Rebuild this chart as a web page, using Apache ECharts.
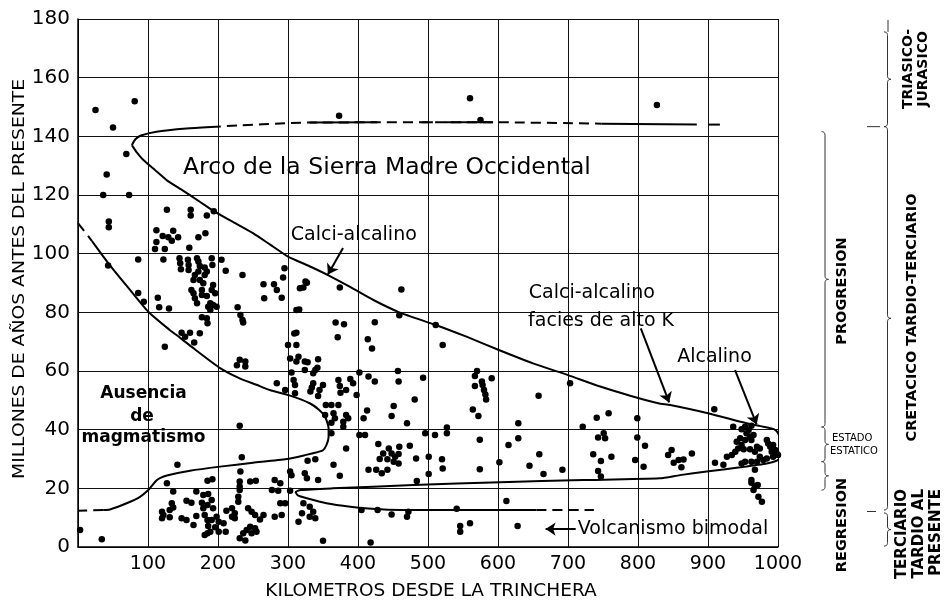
<!DOCTYPE html>
<html><head><meta charset="utf-8">
<script src="https://cdn.jsdelivr.net/npm/echarts@6/dist/echarts.min.js"></script>
<style>html,body{margin:0;padding:0;background:#fff}#c{width:945px;height:600px}</style>
</head><body><div id="c"></div>
<script>
// ---------- axes ----------
const xAxisRange = [0, 1000, 100];   // km from trench
const yAxisRange = [0, 180, 20];     // Ma

// ---------- sample points (km, Ma) ----------
const ptsOldest = [[373,147],[560,153],[575,145.6],[827,150.7]];
const ptsNorthwest = [[25,149],[81,152],[50,143],[69,134],[41,127],[36,120],[73,120],[44,111],[44,109],[127,115],[161,115],[161,113],[184,113],[194,114.5],[112,108],[121,106],[129,105.6],[136,107.8],[143,105.6],[134,104.4],[112,104],[110,101.6],[124,101.6],[172,105.6],[182,107],[159,102],[43,96],[86,98],[122,98],[86,86.6],[114,85]];
const ptsCluster200 = [[145,98.4],[146,96.7],[147,94.7],[157,97.9],[158,96.1],[158,94.4],[170,98.4],[172,97.3],[174,95.8],[181,95.3],[184,93.9],[181,92.7],[172,93.9],[167,92.7],[165,91],[174,91],[179,89.9],[162,87.6],[165,86.5],[167,84.8],[177,87.6],[177,85.9],[184,85.6],[191,87.6],[193,89.3],[196,86.5],[189,83.1],[186,81.9],[193,82.5],[198,81.9],[189,80.8],[170,83.1],[191,98.4],[192,96.1],[205,97.9],[211,94.2],[235,92.7],[94,83.6],[116,81.7],[130,81.3],[177,78.3],[184,78],[185,76.3],[148,73],[160,73],[174,72.9],[166,69.7],[153,71.7],[124,68.3]];
const ptsCentral = [[265,89.6],[280,89.6],[284,87.6],[291,85],[266,84.8],[295,95],[293,91.9],[325,90.5],[317,88.2],[316,81],[322,88.5],[327,90.1],[374,88.5],[462,87.8],[228,81.7],[232,79.1],[235,77.4],[236,76.5],[312,73],[300,68.9],[312,68.9],[231,63.8],[227,62],[239,63.2],[239,61.5],[312,80.8],[309,72.8],[303,64.3],[315,64.9],[324,63.2],[324,60.3],[339,60.3],[336,59.2],[336,55.8],[284,55.8],[296,53.5],[308,56.9],[310,55.2],[310,52.4],[231,41.3],[368,76.5],[380,75.9],[371,71.5],[424,76.6],[414,70.8],[420,67.7],[459,79],[511,75.7],[312,63.2],[328,63],[343,64],[342,61.1],[305,59.5],[334,54.4],[332,53],[345,53.5],[343,51.5],[350,55.2],[372,56.9],[374,54.9],[389,57.3],[393,55.8],[383,53.5],[375,52.6],[398,51.8],[354,48.4],[362,48.4],[372,48.4],[353,45],[365,45.6],[367,43.9],[362,42.4],[383,45],[386,43.9],[379,42.7],[379,41],[362,38.8],[402,59.5],[415,58.1],[424,56.4],[457,60],[458,56.4],[493,57.7],[481,50.3],[413,46.5],[408,43.9],[451,48.1],[448,44.7],[470,42.2],[402,38.2],[410,38.2],[496,38.8],[510,38.2],[429,35.1],[444,33.6],[474,34.5],[383,33.6]];
const ptsEast = [[521,68.9],[570,60],[567,58.3],[577,56.4],[578,55.2],[580,53.5],[582,52],[583,50.3],[567,54.9],[591,57.5],[564,46.9],[572,44.7],[658,51.6],[703,55.8],[741,44.1],[758,45.6],[799,43.9],[721,41],[629,42.2],[629,37.1],[615,34.8],[743,37.3],[751,38.8],[753,37.1],[799,37.3],[810,34.5],[574,36.6],[527,40.7],[527,38.8],[659,31.6],[645,27.7],[665,24.9],[692,26.3],[602,28.9],[574,26.5],[736,31.6],[747,29.3],[762,30.8],[743,25.9],[747,24],[796,29.7],[808,27.4],[848,33.1],[843,31.4],[851,28.7],[858,29.7],[865,29.8],[862,27.2],[877,31.9],[909,47]];
const ptsLowerBand = [[501,30.8],[520,29.9],[521,26.8],[501,24.9],[483,30.2],[484,22.5],[436,31.9],[448,31.9],[453,30.8],[458,31.7],[442,29.9],[451,29.1],[458,28.5],[415,26.3],[426,26.3],[434,25.1],[442,26.3],[431,30],[459,34.2],[365,28],[374,24.3],[343,22.8],[324,25.1],[328,29.4],[339,29.9],[327,23.4],[303,25.7],[305,24.5],[281,22.8],[289,21.7],[277,19.4],[286,19.2],[303,19.2],[142,28],[234,30.6],[232,25.7],[185,22.6],[192,23.1],[231,22.3],[231,20.6],[231,19.4],[246,22.3],[254,22.6],[127,21.7],[136,18.9]];
const ptsYoung = [[3,5.8],[34,2.6],[229,17.1],[229,15.4],[169,18.9],[179,17.7],[186,18.1],[191,16],[185,14.3],[193,13.2],[179,13.2],[177,15.1],[155,15.8],[162,15.1],[134,14.9],[136,13.5],[131,12.6],[120,12],[122,10.9],[120,9.8],[131,10.1],[148,9.8],[155,9.2],[165,7.5],[169,10.6],[181,10.9],[185,9.2],[191,9.2],[198,10.3],[201,8.6],[186,7.2],[196,6.7],[189,5.2],[181,4.1],[185,4.7],[201,5.2],[212,12.4],[220,13.2],[224,11.5],[220,10.3],[224,9.8],[208,8.1],[211,5.2],[243,13.2],[248,12],[253,10.9],[265,10.9],[260,9.4],[246,6.9],[253,6.4],[241,5.8],[248,4.7],[236,4.7],[231,3],[239,2.2],[255,5.2],[281,10.3],[291,10.9],[289,14.9],[296,14.9],[315,8.6],[322,14.9],[331,13.7],[336,12],[339,9.8],[320,11.5],[331,10.3],[350,2.1],[418,1.5],[405,12.6],[428,12.6],[448,11.1],[472,12],[470,10.3],[541,13],[612,15.7],[628,7.2],[560,8.1],[546,7.2],[546,5.2]];
const ptsAlcalino = [[936,41],[948,40.1],[953,41],[958,39.9],[962,41.3],[955,38.8],[960,37.6],[965,38.2],[946,37.1],[941,35.9],[953,36.5],[962,36.5],[948,34.8],[943,33.6],[939,32.5],[951,33.3],[960,33.3],[967,32.5],[970,34.2],[974,33.6],[974,30.8],[979,29.7],[970,29.1],[962,29.1],[953,29.1],[948,28.5],[927,30.8],[922,28],[910,28.7],[934,31.4],[967,26.3],[962,22.8],[962,21.9],[967,20.6],[971,21.1],[965,19.4],[972,17.1],[977,15.4],[984,36.5],[986,35.3],[989,34.2],[993,34.8],[996,33.1],[998,31.9],[991,32.5],[993,30.8],[1000,31.4],[984,30.2]];

// ---------- boundary curves (km, Ma) ----------
const arcTopStart = [[77,137],[82,139],[90,140.3],[112,141.6],[155,142.7],[190,143.2]];
const arcTopDashed = [[190,143.2],[331,144.7],[593,144.8],[748,144.3]];
const arcTopSolidPieces = [
  [[331,144.7],[427,144.8]],
  [[491,144.8],[507,144.8]],
  [[524,144.8],[593,144.8]],
  [[748,144.3],[884,144]],
  [[900,144],[917,144]]
];
const arcMain = [[77,137],[84,134.5],[93,132],[110,128.5],[127,125],[150,121.5],[174,117.7],[194,114.5],[220,111],[250,107],[275,103],[300,99],[330,95.8],[357,92.7],[390,88.5],[422,84.2],[459,80],[511,75.7],[555,71.7],[603,67],[650,62.6],[700,58.6],[746,54.7],[790,51.5],[829,49],[846,48.4],[900,45.6],[955,42.2],[975,41.2],[994,40.2],[1000,38.9],[1004,36.6],[1005.5,34.5],[1005.5,32],[1003,30.3],[998,29.4],[984,28.5],[946,27.2],[898,25.7],[860,24.5],[831,23.4],[722,22.8],[603,22.1],[479,21.1],[364,20],[318,19.4],[311,18.7],[314,17.6],[327,16.6],[355,14.9],[389,13.7],[420,13],[460,12.6],[550,12.6],[655,12.6]];
const bimodalDashed = [[655,12.6],[737,12.6]];
const magmaTopDashed = [[0,110.4],[20,104.3]];
const magmaCurve = [[20,104.3],[45.7,96],[72,88.3],[100,80.3],[131,74],[146,71.3],[162,68.3],[203,61],[231,57.5],[255,55.3],[274,53.5],[303,51.6],[331,49],[345,46.6],[353,44.4],[358,40.5],[358,37.5],[355,34.8],[350,33],[340,32.2],[326,31.4],[298,30],[250,28.7],[203,27.4],[160,26],[127,24.4],[117,23.5],[112,22.7],[106,21],[100.5,19.4],[88.6,17.1],[69.5,14.9],[45.7,12.8],[36,12.6]];
const magmaBottomDashed = [[36,12.6],[0,12.4]];

// ---------- arrows (km, Ma) ----------
const arrowLines = [
  [[378.6,101.9],[357,92.9]],
  [[804,74.5],[844.5,49.3]],
  [[938.6,60.3],[969.5,41.8]],
  [[711,6.1],[668,6.1]]
];

// ---------- text labels inside the plot (anchor in km, Ma) ----------
const plotLabels = [
  {t:'Arco de la Sierra Madre Occidental', x:150, y:129.2, a:'left', s:23.5, w:'normal'},
  {t:'Calci-alcalino', x:304, y:106.4, a:'left', s:19, w:'normal'},
  {t:'Calci-alcalino', x:644, y:86.4, a:'left', s:19, w:'normal'},
  {t:'facies de alto K', x:643, y:77, a:'left', s:19, w:'normal'},
  {t:'Alcalino', x:856, y:64.8, a:'left', s:19, w:'normal'},
  {t:'Ausencia', x:93.6, y:52.4, a:'center', s:17, w:'bold'},
  {t:'de', x:91.4, y:44.3, a:'center', s:17, w:'bold'},
  {t:'magmatismo', x:93.6, y:37.3, a:'center', s:17, w:'bold'},
  {t:'Volcanismo bimodal', x:714, y:6.1, a:'left', s:19, w:'normal'}
];

// ---------- right-hand time scale (Ma ranges) ----------
const bracesInner = [[141.6,40.9],[40.9,29.1],[29.1,19.4]];
const bracesOuter = [[175.6,143.3],[143.3,12.6],[11.6,0.3]];

const FONT = '"DejaVu Sans", sans-serif';
const chart = echarts.init(document.getElementById('c'), null, {renderer:'canvas'});

const lineS = (data, dashed, width) => ({
  type:'line', data, showSymbol:false, symbol:'none', smooth:0.2, silent:true, z:3,
  lineStyle:{color:'#000', width: width || 2, type: dashed ? [10,6] : 'solid'}
});
const dotS = (data) => ({
  type:'scatter', data, symbol:'circle', symbolSize:6.5, silent:true, z:4,
  itemStyle:{color:'#000', opacity:1}
});

const series = [
  lineS(arcTopStart,false),
  lineS(arcTopDashed,true),
  ...arcTopSolidPieces.map(p => lineS(p,false)),
  lineS(arcMain,false),
  lineS(bimodalDashed,true),
  lineS(magmaTopDashed,true),
  lineS(magmaCurve,false),
  lineS(magmaBottomDashed,true),
  {type:'lines', coordinateSystem:'cartesian2d', silent:true, z:5,
   symbol:['none','arrow'], symbolSize:10,
   lineStyle:{color:'#000', width:2, curveness:0, opacity:1},
   data: arrowLines.map(c => ({coords:c}))},
  dotS(ptsOldest), dotS(ptsNorthwest), dotS(ptsCluster200), dotS(ptsCentral),
  dotS(ptsEast), dotS(ptsLowerBand), dotS(ptsYoung), dotS(ptsAlcalino)
];

chart.setOption({
  animation:false,
  backgroundColor:'#fff',
  grid:{left:78, right:167, top:19, bottom:53},
  xAxis:{type:'value', min:xAxisRange[0], max:xAxisRange[1], interval:xAxisRange[2],
    axisLine:{show:true, onZero:false, lineStyle:{color:'#000', width:1.5}},
    axisTick:{show:false},
    axisLabel:{showMinLabel:false, color:'#000', fontSize:19, fontFamily:FONT, margin:8,
               formatter: v => String(v)},
    splitLine:{show:true, lineStyle:{color:'#111', width:1}}},
  yAxis:{type:'value', min:yAxisRange[0], max:yAxisRange[1], interval:yAxisRange[2],
    axisLine:{show:true, onZero:false, lineStyle:{color:'#000', width:1.5}},
    axisTick:{show:false},
    axisLabel:{color:'#000', fontSize:20, fontFamily:FONT, margin:8, formatter: v => String(v)},
    splitLine:{show:true, lineStyle:{color:'#111', width:1}}},
  series
});

const P = (x,y) => chart.convertToPixel({gridIndex:0},[x,y]);
const Y = (v) => P(0,v)[1];

function quad(p0, c, p1, n, out){
  for(let i=1;i<=n;i++){const t=i/n, u=1-t;
    out.push([u*u*p0[0]+2*u*t*c[0]+t*t*p1[0], u*u*p0[1]+2*u*t*c[1]+t*t*p1[1]]);}
}
function brace(x, y1, y2, w, d){
  const ym=(y1+y2)/2, pts=[[x-w,y1]];
  quad([x-w,y1],[x,y1],[x,y1+w],6,pts);
  pts.push([x,ym-w]);
  quad([x,ym-w],[x,ym],[x+d,ym],6,pts);
  quad([x+d,ym],[x,ym],[x,ym+w],6,pts);
  pts.push([x,y2-w]);
  quad([x,y2-w],[x,y2],[x-w,y2],6,pts);
  return {type:'polyline', silent:true, shape:{points:pts}, style:{stroke:'#333', lineWidth:1, fill:null}};
}
const txt = (text, x, y, o) => ({type:'text', x, y, silent:true, rotation:o.r||0, scaleX:o.sx||1,
  style:{text, fill:'#000', font:(o.w||'normal')+' '+o.s+'px '+FONT, align:o.a||'center',
         verticalAlign:'middle', lineHeight:o.lh||o.s}});

const g = [];
plotLabels.forEach(l => { const p=P(l.x,l.y); g.push(txt(l.t,p[0],p[1],{s:l.s,w:l.w,a:l.a})); });

// axis titles
g.push(txt('KILOMETROS DESDE LA TRINCHERA', (P(0,0)[0]+P(1000,0)[0])/2+3, 591, {s:18.5}));
g.push(txt('MILLONES DE AÑOS ANTES DEL PRESENTE', 20, (Y(0)+Y(180))/2-4, {s:15, r:Math.PI/2, sx:1.25}));

// braces
bracesInner.forEach(b => g.push(brace(825, Y(b[0]), Y(b[1]), 3.5, 3.5)));
bracesOuter.forEach(b => g.push(brace(887.5, Y(b[0]), Y(b[1]), 3.5, 3.5)));
g.push({type:'line', silent:true, shape:{x1:888, y1:Y(175.6)-12, x2:888, y2:Y(175.6)}, style:{stroke:'#333', lineWidth:1}});
g.push({type:'line', silent:true, shape:{x1:867, y1:Y(143.3), x2:880, y2:Y(143.3)}, style:{stroke:'#333', lineWidth:1}});
g.push({type:'line', silent:true, shape:{x1:867, y1:Y(12.1), x2:876, y2:Y(12.1)}, style:{stroke:'#333', lineWidth:1}});

// time-scale labels
g.push(txt('PROGRESION', 842, 291, {s:14.5, w:'bold', r:Math.PI/2}));
g.push(txt('ESTADO', 832, 438.5, {s:10, a:'left'}));
g.push(txt('ESTATICO', 830, 451.5, {s:10, a:'left'}));
g.push(txt('REGRESION', 842.5, 525, {s:14.5, w:'bold', r:Math.PI/2}));
g.push(txt('TRIASICO-\nJURASICO', 916, 69, {s:14, w:'bold', r:Math.PI/2, lh:14.5}));
g.push(txt('CRETACICO TARDIO-TERCIARIO', 912.5, 317.5, {s:14.5, w:'bold', r:Math.PI/2}));
g.push(txt('TERCIARIO\nTARDIO AL\nPRESENTE', 919, 489, {s:15, w:'bold', r:Math.PI/2, a:'right', lh:17}));

chart.setOption({graphic:{elements:g}});
</script></body></html>
